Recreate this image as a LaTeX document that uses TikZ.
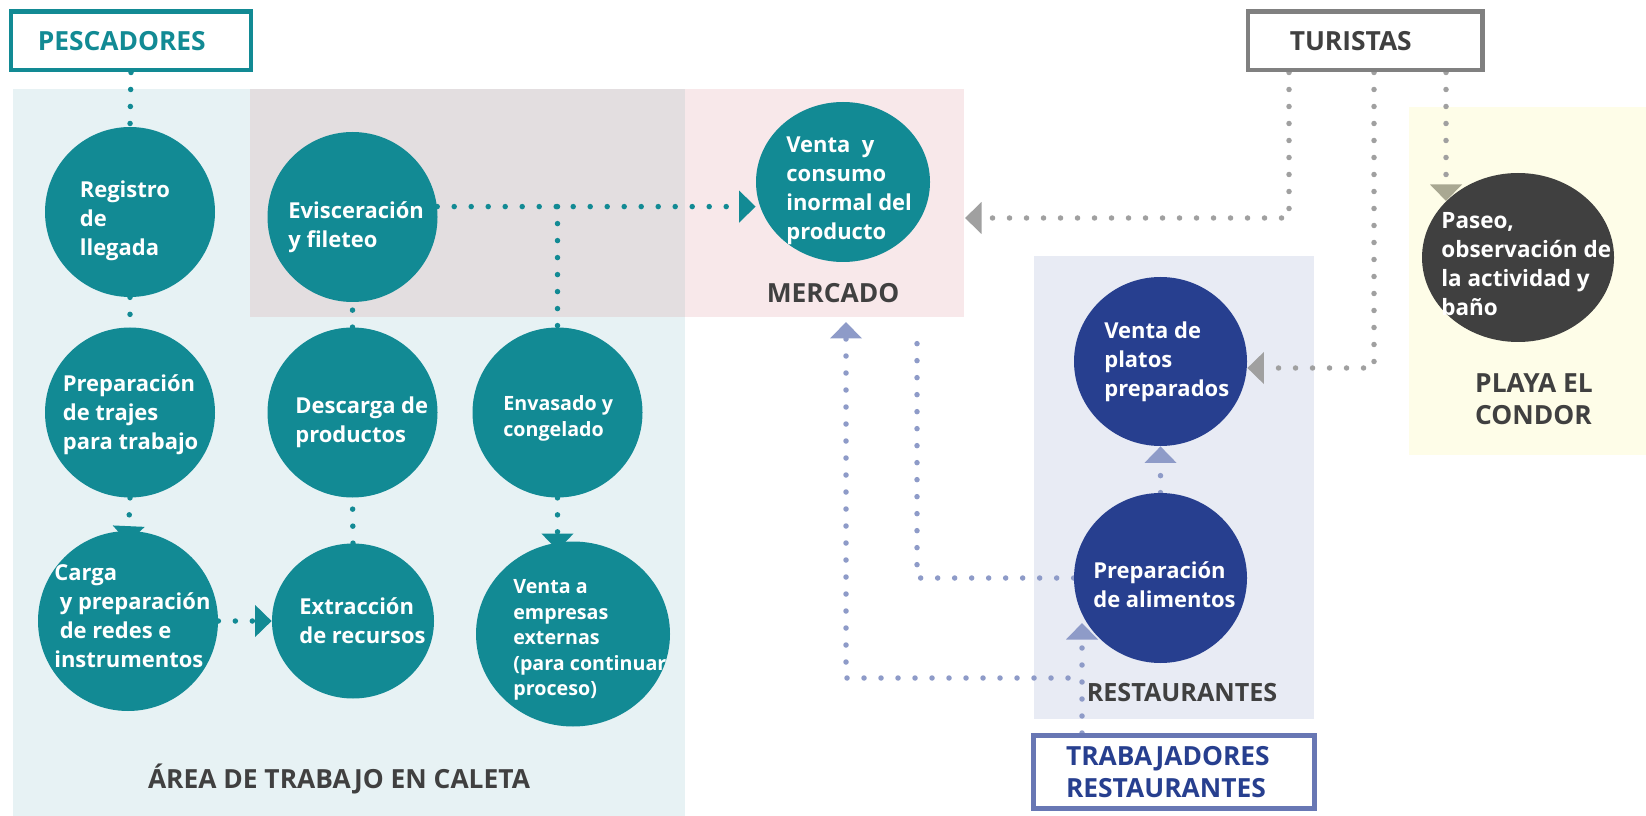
\documentclass[tikz,border=0pt]{standalone}
\usepackage{fontspec}
\setmainfont{Open Sans}
\usepackage{tikz}
\usetikzlibrary{arrows.meta, positioning, shapes.geometric}
\usepackage{xcolor}

\definecolor{tealc}{HTML}{128A94}
\definecolor{navyc}{HTML}{273F8F}
\definecolor{darkc}{HTML}{404040}
\definecolor{caletabg}{HTML}{E7F2F4}
\definecolor{evibg}{HTML}{E3DEE0}
\definecolor{mercbg}{HTML}{F8E8EA}
\definecolor{restbg}{HTML}{E8EBF4}
\definecolor{playabg}{HTML}{FEFDE8}
\definecolor{bluedot}{HTML}{8E9BC8}
\definecolor{graydot}{HTML}{A0A0A0}
\definecolor{olivetip}{HTML}{A9A892}
\definecolor{boxblue}{HTML}{6877B4}
\definecolor{boxgray}{HTML}{808080}

\pgfdeclarelayer{zones}
\pgfdeclarelayer{links}
\pgfsetlayers{zones,links,main}

\begin{document}
\begin{tikzpicture}[
    proc/.style={ellipse, inner sep=0pt,
                 minimum width=3.4cm, minimum height=3.4cm},
    tealp/.style={proc, fill=tealc},
    navyp/.style={proc, fill=navyc},
    ptext/.style={anchor=west, inner sep=0pt, align=left, text=white,
                  font=\fontsize{12.5}{16.5}\selectfont\bfseries},
    ptextsmall/.style={ptext, font=\fontsize{11.2}{14.5}\selectfont\bfseries},
    actor/.style={rectangle, line width=0.09cm, fill=white, align=left,
                  inner ysep=0pt, minimum height=1.17cm,
                  font=\fontsize{15}{18.2}\selectfont\bfseries},
    zonelbl/.style={text=darkc, align=left,
                    font=\fontsize{15}{18.2}\selectfont\bfseries},
    dotline/.style={line width=0.11cm, line cap=round,
                    dash pattern=on 0pt off 0.34cm},
    arrowed/.style={-{Triangle[width=0.62cm, length=0.33cm]}},
]
  \useasboundingbox (0,0) rectangle (32.92,-16.32);

  % Zones
  \begin{pgfonlayer}{zones}
    \fill[caletabg] (0.25,-1.78) rectangle (13.70,-16.32);
    \fill[evibg]    (5.00,-1.78) rectangle (13.70,-6.34);
    \fill[mercbg]   (13.70,-1.78) rectangle (19.28,-6.34);
    \fill[restbg]   (20.68,-5.12) rectangle (26.28,-14.38);
    \fill[playabg]  (28.18,-2.14) rectangle (32.92,-9.10);
  \end{pgfonlayer}

  % Actors
  \node[actor, draw=tealc, text=tealc, text width=3.73cm, inner xsep=0.53cm]
    (pesc) at (2.62,-0.82) {PESCADORES};
  \node[actor, draw=boxgray, text=darkc, text width=3.01cm, inner xsep=0.84cm]
    (turi) at (27.30,-0.82) {TURISTAS};
  \node[actor, draw=boxblue, text=navyc, text width=4.32cm, inner xsep=0.65cm,
        line width=0.1cm, minimum height=1.46cm]
    (trab) at (23.48,-15.44) {TRABAJADORES\\RESTAURANTES};

  % Activities
  \node[tealp] (reg)   at (2.60,-4.24)  {};
  \node[tealp] (evi)   at (7.05,-4.34)  {};
  \node[tealp] (traj)  at (2.60,-8.25)  {};
  \node[tealp] (desc)  at (7.05,-8.25)  {};
  \node[tealp] (env)   at (11.15,-8.25) {};
  \node[tealp, minimum width=3.6cm, minimum height=3.6cm]   (carga) at (2.56,-12.42) {};
  \node[tealp, minimum width=3.24cm, minimum height=3.1cm]  (extr)  at (7.06,-12.42) {};
  \node[tealp, minimum width=3.88cm, minimum height=3.7cm]  (vemp)  at (11.46,-12.68) {};
  \node[tealp, minimum width=3.48cm, minimum height=3.2cm]  (vcon)  at (16.86,-3.64) {};
  \node[proc, fill=darkc, minimum width=3.84cm, minimum height=3.38cm]
    (paseo) at (30.36,-5.15) {};
  \node[navyp, minimum width=3.46cm, minimum height=3.38cm] (vpla)  at (23.21,-7.23) {};
  \node[navyp, minimum width=3.46cm, minimum height=3.40cm] (palim) at (23.21,-11.56) {};

  \node[ptext] (regtxt)   at (1.59,-4.42)  {Registro\\de\\llegada};
  \node[ptext] (evitxt)   at (5.76,-4.54)  {Evisceración\\y fileteo};
  \node[ptext] (trajtxt)  at (1.25,-8.30)  {Preparación\\de trajes\\para trabajo};
  \node[ptext] (desctxt)  at (5.90,-8.44)  {Descarga de\\productos};
  \node[ptextsmall] (envtxt) at (10.06,-8.37) {Envasado y\\congelado};
  \node[ptext] (cargatxt) at (1.08,-12.32)
    {Carga\\\hspace*{0.25em}y preparación\\\hspace*{0.25em}de redes e\\instrumentos};
  \node[ptext] (extrtxt)  at (5.98,-12.42) {Extracción\\de recursos};
  \node[ptextsmall] (vemptxt) at (10.26,-12.80)
    {Venta a\\empresas\\externas\\(para continuar\\proceso)};
  \node[ptext] (vcontxt)  at (15.72,-3.82) {Venta~ y\\consumo\\inormal del\\producto};
  \node[ptext, font=\fontsize{12.8}{16.5}\selectfont\bfseries]
    (paseotxt) at (28.82,-5.28) {Paseo,\\observación de\\la actividad y\\baño};
  \node[ptext] (vplatxt)  at (22.08,-7.24)  {Venta de\\platos\\preparados};
  \node[ptext] (palimtxt) at (21.86,-11.70) {Preparación\\de alimentos};

  % Zone labels
  \node[zonelbl] (lmerc)  at (16.66,-5.86)  {MERCADO};
  \node[zonelbl] (lcal)   at (6.78,-15.58)  {ÁREA DE TRABAJO EN CALETA};
  \node[zonelbl, font=\fontsize{14.3}{18.2}\selectfont\bfseries]
    (lrest)  at (23.64,-13.86) {RESTAURANTES};
  \node[zonelbl, anchor=west] (lplaya) at (29.38,-7.98) {PLAYA EL\\CONDOR};

  % Free ends and bends
  \coordinate (turbend)   at (25.78,-4.36);
  \coordinate (mercin)    at (19.30,-4.36);
  \coordinate (vplabend)  at (27.48,-7.36);
  \coordinate (pasin)     at (28.92,-4.02);
  \coordinate (mercbot)   at (18.34,-6.54);
  \coordinate (palimin)   at (21.64,-12.46);
  \coordinate (trabsplit) at (21.36,-13.56);
  \coordinate (mercin2)   at (16.92,-6.44);

  \begin{pgfonlayer}{links}
    % Fishermen flow
    \draw[dotline, tealc] (pesc.south) -- (reg.north);
    \draw[dotline, tealc] (reg.south) -- (traj.north);
    \draw[dotline, tealc, arrowed] (traj.south) -- ([yshift=-0.24cm]carga.north);
    \draw[dotline, tealc, arrowed] (carga.east) -- (extr.west);
    \draw[dotline, tealc] (extr.north) -- (desc.south);
    \draw[dotline, tealc] (desc.north) -- (evi.south);
    \draw[dotline, tealc, arrowed] (evi.7) -- (evi.7 -| vcon.west);
    \draw[dotline, tealc] (evi.7 -| env.north) -- (env.north);
    \draw[dotline, tealc, arrowed] (env.south) -- ([yshift=-0.18cm]env.south |- vemp.north);

    % Tourists
    \draw[dotline, graydot, arrowed] (turi.south -| turbend) -- (turbend) -- (mercin);
    \draw[dotline, graydot, arrowed] (turi.south -| vplabend) -- (vplabend)
      -- (vplabend -| vpla.east);
    \draw[dotline, graydot, -{Triangle[width=0.62cm, length=0.33cm, olivetip]}]
      (turi.south -| pasin) -- (pasin);

    % Restaurants
    \draw[dotline, bluedot] (palim.west) -| (mercbot);
    \draw[dotline, bluedot, arrowed] (trab.north -| palimin) -- (palimin);
    \draw[dotline, bluedot, arrowed] (trabsplit) -| (mercin2);
    \draw[dotline, bluedot, arrowed] (palim.north) -- (vpla.south);
  \end{pgfonlayer}
\end{tikzpicture}
\end{document}
